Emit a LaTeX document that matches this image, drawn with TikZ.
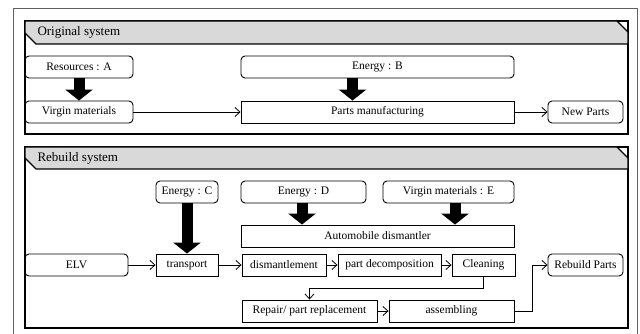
\documentclass[tikz,border=0pt]{standalone}
\usepackage{fontspec}
\setmainfont{Liberation Serif}
\usetikzlibrary{arrows.meta}

\tikzset{
  rbox/.style={draw,rounded corners=4pt,line width=0.9pt,minimum height=22pt,inner sep=1pt,font=\fontsize{11.5}{13}\selectfont},
  sbox/.style={draw,line width=0.9pt,minimum height=22pt,inner sep=1pt,font=\fontsize{11.5}{13}\selectfont},
  flow/.style={->,>={Straight Barb[length=5pt,width=9pt]},line width=0.8pt},
  feed/.style={-{Triangle[length=11pt,width=27pt]},line width=11pt,shorten <=0pt},
  panel/.style={draw,line width=1.2pt},
  header/.style={draw,fill=gray!30,line width=1.2pt},
  title/.style={anchor=west,font=\fontsize{13}{15}\selectfont}
}

\begin{document}
\begin{tikzpicture}[x=1pt,y=-1pt]
                    \useasboundingbox (0,0) rectangle (640,334);
                    \draw[gray!75!black,line width=1pt] (13,334) -- (13,9) -- (637,9) -- (637,334);

                    % original system
                    \draw[panel] (25,21) rectangle (628,134);
                    \draw[header] (25,21) -- (617,21) -- (628,32) -- (628,44) -- (36,44) -- (25,33) -- cycle;
                    \node[title] at (34,32.5) (orig) {Original system};

                    \node[rbox,minimum width=108pt] at (79,67) (resA) {Resources : A};
                    \node[rbox,minimum width=108pt] at (79,112) (virgin) {Virgin materials};
                    \node[rbox,minimum width=273pt] at (377.5,67) (enB) {Energy : B};
                    \node[sbox,minimum width=273pt] at (377.5,112) (partsmfg) {Parts manufacturing};
                    \node[rbox,minimum width=75pt] at (585.5,112) (newparts) {New Parts};

                    \draw[feed] (resA.south) -- (virgin.north);
                    \draw[feed] ([xshift=-25pt]enB.south) -- ([xshift=-25pt]partsmfg.north);
                    \draw[flow] (virgin) -- (partsmfg);
                    \draw[flow] (partsmfg) -- (newparts);

                    % rebuild system
                    \draw[panel] (25,147) rectangle (628,328);
                    \draw[header] (25,147) -- (617,147) -- (628,158) -- (628,169) -- (36,169) -- (25,158) -- cycle;
                    \node[title] at (34,158) (rebuild) {Rebuild system};

                    \node[rbox,minimum width=62pt] at (187,192) (enC) {Energy : C};
                    \node[rbox,minimum width=125pt] at (303.5,192) (enD) {Energy : D};
                    \node[rbox,minimum width=131pt] at (448.5,192) (vmE) {Virgin materials : E};
                    \node[sbox,minimum width=273pt] at (377.5,236) (autodis) {Automobile dismantler};

                    \node[rbox,minimum width=103pt] at (76.5,265) (elv) {ELV};
                    \node[sbox,minimum width=62pt] at (187,265) (transport) {transport};
                    \node[sbox,minimum width=84pt] at (284,265) (dismant) {dismantlement};
                    \node[sbox,minimum width=103pt] at (389.5,265) (partdec) {part decomposition};
                    \node[sbox,minimum width=63pt] at (483.5,265) (cleaning) {Cleaning};
                    \node[rbox,minimum width=75pt] at (585.5,265) (rebuildparts) {Rebuild Parts};
                    \node[sbox,minimum width=135pt] at (309.5,311) (repair) {Repair/ part replacement};
                    \node[sbox,minimum width=125pt] at (451.5,311) (assembling) {assembling};

                    \draw[feed] (enC.south) -- (transport.north);
                    \draw[feed] ([xshift=-1.5pt]enD.south) -- ([xshift=-1.5pt]enD.south |- autodis.north);
                    \draw[feed] ([xshift=6.5pt]vmE.south) -- ([xshift=6.5pt]vmE.south |- autodis.north);

                    \draw[flow] (elv) -- (transport);
                    \draw[flow] (transport) -- (dismant);
                    \draw[flow] (dismant) -- (partdec);
                    \draw[flow] (partdec) -- (cleaning);
                    \draw[flow] (cleaning.south) -- ++(0,12) -| (repair.north);
                    \draw[flow] (repair) -- (assembling);
                    \draw[flow] (assembling.east) -- ++(18,0) |- (rebuildparts.west);
                \end{tikzpicture}
\end{document}
